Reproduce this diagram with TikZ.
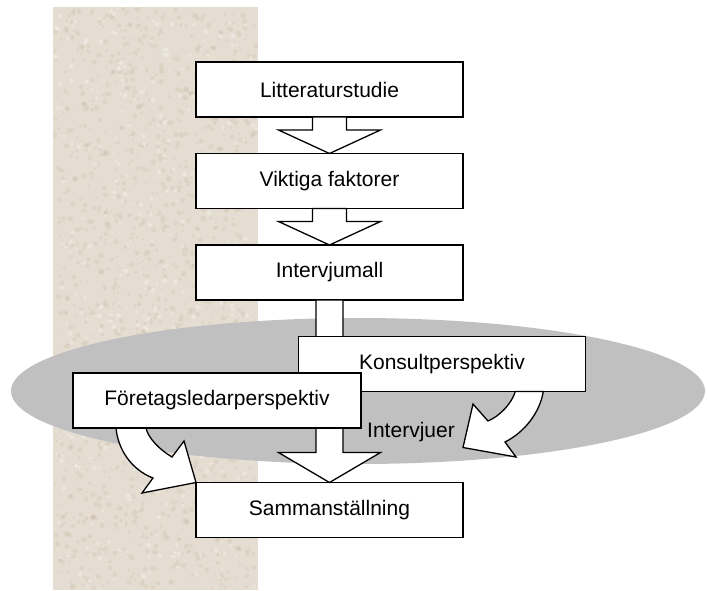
\documentclass[tikz,border=0pt]{standalone}
\usepackage{fontspec}
\setmainfont{Liberation Sans}
\usetikzlibrary{calc}
\definecolor{sand}{RGB}{229,221,209}
\definecolor{grain}{RGB}{196,182,160}
\definecolor{cloud}{RGB}{192,192,192}
\tikzset{
  stage/.style={draw=black,fill=white,line width=1.3pt,inner sep=0pt,outer sep=0pt,
    minimum width=#1,minimum height=55pt,font=\fontsize{21}{25}\selectfont},
  stage/.default=267pt,
  fatarrow/.style={draw=black,fill=white,line width=1.3pt,line join=miter},
  tag/.style={font=\fontsize{21}{25}\selectfont,inner sep=0pt},
}
% broad block arrow from the bottom of one node to the top of another
\newcommand{\flowarrow}[4]{%
  \draw[fatarrow] let \p1=(#1.south), \p2=(#2.north) in
    (\x1-#3,\y1) -- (\x1-#3,\y2+#4) -- (\x1-51pt,\y2+#4) -- (\x2,\y2)
    -- (\x1+51pt,\y2+#4) -- (\x1+#3,\y2+#4) -- (\x1+#3,\y1) -- cycle;}

\begin{document}
\begin{tikzpicture}[x=1pt,y=-1pt]
  \useasboundingbox (0,0) rectangle (707,590);
  % sand strip
  \fill[sand] (53,7) rectangle (258,590);
  \pgfmathsetseed{7}
  \foreach \i in {1,...,1400}
    \fill[grain,opacity=0.22] (55+201*rnd,9+579*rnd) circle (1.2+1.6*rnd);
  \foreach \i in {1,...,500}
    \fill[white,opacity=0.3] (55+201*rnd,9+579*rnd) circle (1+1.4*rnd);
  % interview cloud
  \fill[cloud] (358,391) ellipse (347 and 73);

  \node[stage] (lit) at (329.5,89.5) {Litteraturstudie};
  \node[stage] (vikt) at (329.5,181) {Viktiga faktorer};
  \node[stage] (interv) at (329.5,272.5) {Intervjumall};
  \node[stage] (samman) at (329.5,510) {Sammanställning};

  \flowarrow{lit}{vikt}{17pt}{23.5pt}
  \flowarrow{vikt}{interv}{17pt}{23.5pt}
  \flowarrow{interv}{samman}{13.5pt}{30pt}

  \node[stage=286.5pt] (konsult) at (442,364) {Konsultperspektiv};

  % bent arrows
  \draw[fatarrow] ($(konsult.south east)+(-70,0)$) .. controls (512,403) and (500,416) .. (488,421)
    -- (473,404) -- ($(samman.north east)+(0,-35)$) -- (516,457) -- (505,442)
    .. controls (525,432) and (540,412) .. ($(konsult.south east)+(-42,0)$) -- cycle;

  \node[stage=288pt] (foretag) at (217,400.5) {Företagsledarperspektiv};

  \draw[fatarrow] ($(foretag.south west)+(73,0)$) .. controls (148,438) and (160,450) .. (172,457)
    -- (184,441) -- (samman.north west) -- (142,493) -- (153,478)
    .. controls (132,470) and (118,450) .. ($(foretag.south west)+(43,0)$) -- cycle;
  \draw[line width=1.3pt] (foretag.south west) -- (foretag.south east);

  \node[tag] (intervjuer) at (411,432) {Intervjuer};
\end{tikzpicture}
\end{document}
